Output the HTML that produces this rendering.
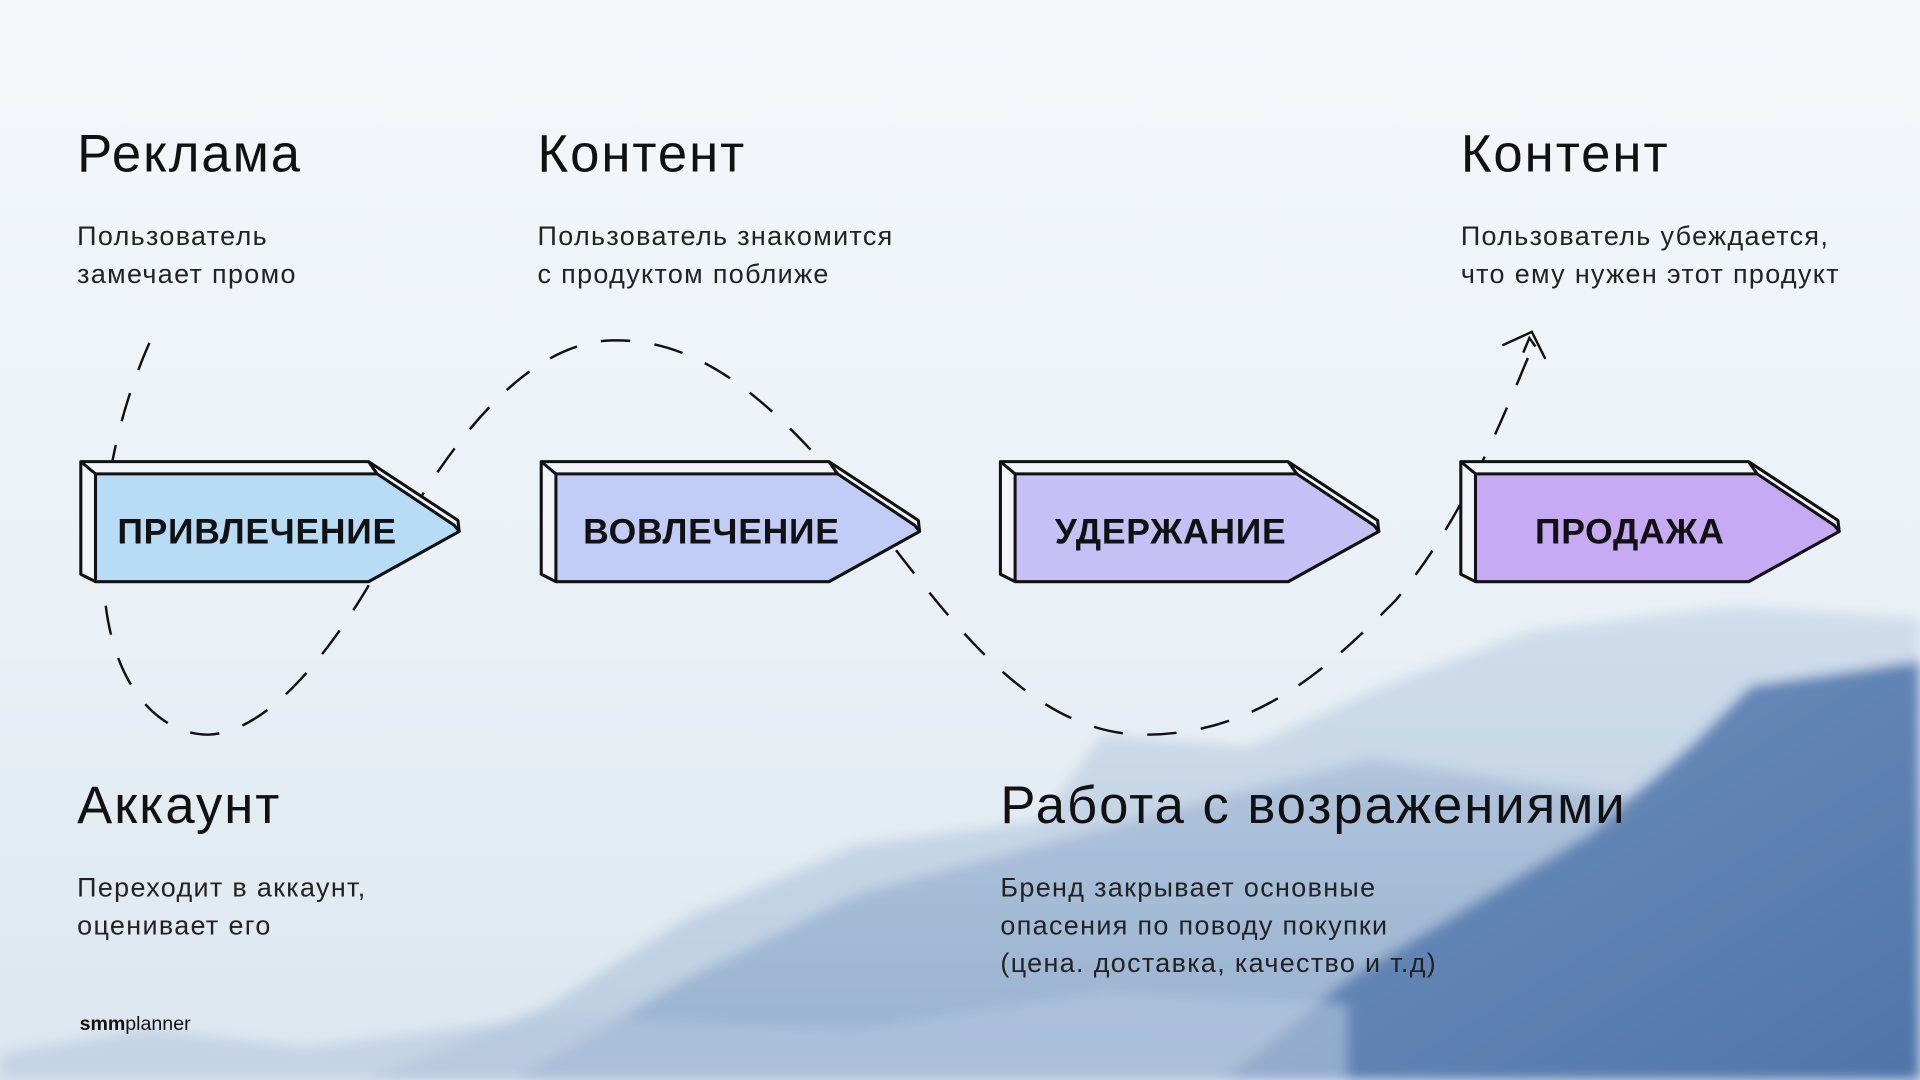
<!DOCTYPE html>
<html><head><meta charset="utf-8"><style>
html,body{margin:0;padding:0;width:1920px;height:1080px;overflow:hidden;background:#eef3f8}
svg{display:block}
text{font-family:"Liberation Sans","DejaVu Sans",sans-serif;fill:#111}
.t{font-size:43px;font-weight:500;letter-spacing:1.6px}
.s{font-size:22px;fill:#222;letter-spacing:1.1px}
.a{font-size:29px;font-weight:bold;letter-spacing:0.6px}
</style></head><body>
<svg width="1920" height="1080" viewBox="0 0 1568 882" xmlns="http://www.w3.org/2000/svg">
<defs>
<linearGradient id="bg" x1="0" y1="0" x2="0" y2="1">
<stop offset="0" stop-color="#f5f8fb"/><stop offset="0.6" stop-color="#e9f0f6"/><stop offset="1" stop-color="#dce6ef"/>
</linearGradient>
<linearGradient id="m1" x1="0" y1="0" x2="0" y2="1">
<stop offset="0" stop-color="#c4d4e5"/><stop offset="1" stop-color="#adc2d9"/>
</linearGradient>
<linearGradient id="m2" x1="0" y1="0" x2="0" y2="1">
<stop offset="0" stop-color="#b0c5dc"/><stop offset="1" stop-color="#8eaacb"/>
</linearGradient>
<linearGradient id="m3" x1="0" y1="0" x2="1" y2="1">
<stop offset="0" stop-color="#7394c0"/><stop offset="1" stop-color="#4f74a8"/>
</linearGradient>
<filter id="bl"><feGaussianBlur stdDeviation="5"/></filter>
</defs>
<rect width="1568" height="882" fill="url(#bg)"/>
<g filter="url(#bl)">
<path d="M300,882 L450,820 L560,750 L700,690 L850,670 L900,600 L1020,610 L1130,560 L1250,515 L1330,505 L1420,495 L1568,505 L1568,882Z" fill="url(#m1)" opacity="0.7"/>
<path d="M420,882 L560,800 L700,730 L850,690 L1000,650 L1120,620 L1250,640 L1330,650 L1400,600 L1568,560 L1568,882Z" fill="url(#m2)" opacity="0.8"/>
<path d="M1000,882 L1100,800 L1200,740 L1300,680 L1380,610 L1430,560 L1500,550 L1568,540 L1568,882Z" fill="url(#m3)"/>
<path d="M0,882 L0,860 L120,840 L250,855 L450,830 L700,840 L900,810 L1100,820 L1100,882Z" fill="#b5c8dd" opacity="0.6"/>
</g>

<text class="t" x="63" y="140">Реклама</text>
<text class="s" x="63" y="200">Пользователь</text>
<text class="s" x="63" y="231">замечает промо</text>

<text class="t" x="439" y="140">Контент</text>
<text class="s" x="439" y="200">Пользователь знакомится</text>
<text class="s" x="439" y="231">с продуктом поближе</text>

<text class="t" x="1193" y="140">Контент</text>
<text class="s" x="1193" y="200">Пользователь убеждается,</text>
<text class="s" x="1193" y="231">что ему нужен этот продукт</text>

<text class="t" x="63" y="672">Аккаунт</text>
<text class="s" x="63" y="732">Переходит в аккаунт,</text>
<text class="s" x="63" y="763">оценивает его</text>

<text class="t" x="817" y="672">Работа с возражениями</text>
<text class="s" x="817" y="732">Бренд закрывает основные</text>
<text class="s" x="817" y="763">опасения по поводу покупки</text>
<text class="s" x="817" y="794">(цена. доставка, качество и т.д)</text>

<text x="65" y="841" style="font-size:16px;font-weight:bold;letter-spacing:0px">smm<tspan style="font-weight:normal">planner</tspan></text>

<path d="M122,280 C100,330 80,400 85,480 C90,560 130,600 170,600 C220,598 270,530 300,480 C340,410 410,280 500,278 C580,276 640,340 700,410 C760,480 830,600 935,600 C1030,600 1090,540 1140,490 C1190,430 1220,360 1252,282" fill="none" stroke="#111" stroke-width="2" stroke-dasharray="24 20"/>
<path d="M1227,282 L1251,271 L1262,293 M1244,288 L1249,276 L1254,283" fill="none" stroke="#111" stroke-width="2"/>

<g stroke="#111" stroke-width="2.5" stroke-linejoin="round">
<g transform="translate(66,377)">
<path d="M0,0 L235,0 L308,48 L309,57 L235,98 L12,98 L0,92Z" fill="#f2f6fb"/>
<path d="M12,10 L242,10 L305,52 L309,57 L235,98 L12,98Z" fill="#b9dcf6"/>
<path d="M0,0 L12,10 M235,0 L242,10"/>
</g>
<g transform="translate(442,377)">
<path d="M0,0 L235,0 L308,48 L309,57 L235,98 L12,98 L0,92Z" fill="#f2f6fb"/>
<path d="M12,10 L242,10 L305,52 L309,57 L235,98 L12,98Z" fill="#c1cdf7"/>
<path d="M0,0 L12,10 M235,0 L242,10"/>
</g>
<g transform="translate(817,377)">
<path d="M0,0 L235,0 L308,48 L309,57 L235,98 L12,98 L0,92Z" fill="#f2f6fb"/>
<path d="M12,10 L242,10 L305,52 L309,57 L235,98 L12,98Z" fill="#c6c0f6"/>
<path d="M0,0 L12,10 M235,0 L242,10"/>
</g>
<g transform="translate(1193,377)">
<path d="M0,0 L235,0 L308,48 L309,57 L235,98 L12,98 L0,92Z" fill="#f2f6fb"/>
<path d="M12,10 L242,10 L305,52 L309,57 L235,98 L12,98Z" fill="#c7aaf4"/>
<path d="M0,0 L12,10 M235,0 L242,10"/>
</g>
</g>
<text class="a" x="210" y="444" text-anchor="middle">ПРИВЛЕЧЕНИЕ</text>
<text class="a" x="581" y="444" text-anchor="middle">ВОВЛЕЧЕНИЕ</text>
<text class="a" x="956" y="444" text-anchor="middle">УДЕРЖАНИЕ</text>
<text class="a" x="1331" y="444" text-anchor="middle">ПРОДАЖА</text>
</svg>
</body></html>
